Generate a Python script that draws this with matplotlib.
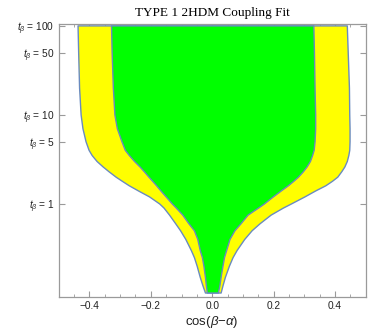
import matplotlib
matplotlib.use("Agg")
import matplotlib.pyplot as plt
import numpy as np

plt.rcParams['font.family'] = ['Liberation Sans', 'DejaVu Sans']
plt.rcParams['mathtext.fontset'] = 'custom'
plt.rcParams['mathtext.rm'] = 'Liberation Sans'
plt.rcParams['mathtext.it'] = 'Liberation Sans:italic'
plt.rcParams['mathtext.bf'] = 'Liberation Sans:bold'

# tan(beta) sample values (top to bottom)
tan_beta = [100, 50, 20, 10, 7, 5, 4, 3.5, 3.0, 2.6, 2.3, 2.0, 1.8, 1.6, 1.4,
            1.2, 1.0, 0.9, 0.75, 0.6, 0.5, 0.4, 0.3, 0.25, 0.2, 0.15, 0.12, 0.1]
# outer (yellow) region boundaries in cos(beta-alpha)
yellow_left = [-0.437, -0.435, -0.432, -0.427, -0.421, -0.411, -0.401, -0.391,
               -0.375, -0.355, -0.336, -0.313, -0.293, -0.270, -0.240, -0.204,
               -0.171, -0.157, -0.139, -0.119, -0.103, -0.086, -0.068, -0.058,
               -0.049, -0.039, -0.030, -0.022]
yellow_right = [0.440, 0.443, 0.447, 0.448, 0.449, 0.449, 0.448, 0.445, 0.440,
                0.432, 0.422, 0.409, 0.392, 0.370, 0.337, 0.302, 0.258, 0.232,
                0.192, 0.156, 0.130, 0.106, 0.081, 0.068, 0.056, 0.043, 0.035,
                0.029]
# inner (green) region boundaries
green_left = [-0.328, -0.326, -0.322, -0.317, -0.309, -0.294, -0.283, -0.270,
              -0.253, -0.235, -0.221, -0.206, -0.194, -0.181, -0.167, -0.150,
              -0.130, -0.117, -0.096, -0.076, -0.058, -0.047, -0.039, -0.032,
              -0.027, -0.022, -0.019, -0.016]
green_right = [0.331, 0.333, 0.335, 0.337, 0.337, 0.335, 0.332, 0.327, 0.320,
               0.309, 0.297, 0.281, 0.266, 0.248, 0.225, 0.199, 0.170, 0.151,
               0.117, 0.094, 0.074, 0.058, 0.047, 0.040, 0.035, 0.029, 0.025,
               0.020]

ytick_vals = [1, 5, 10, 50, 100]
ytick_labels = [r"$t_{\beta}$ = 1", r"$t_{\beta}$ = 5", r"$t_{\beta}$ = 10",
                r"$t_{\beta}$ = 50", r"$t_{\beta}$ = 100"]
xtick_vals = [-0.4, -0.2, 0.0, 0.2, 0.4]
xtick_labels = ["\u22120.4", "\u22120.2", "0.0", "0.2", "0.4"]

fig = plt.figure(figsize=(3.78, 3.32), dpi=100)
ax = fig.add_axes([0.1553, 0.1045, 0.8122, 0.8232])

edge = "#6A8BBF"
t = np.array(tan_beta)
yy = np.concatenate([t, t[::-1]])
yx = np.concatenate([yellow_left, yellow_right[::-1]])
ax.fill(yx, yy, facecolor="#FFFF00", edgecolor=edge, linewidth=1.0,
        joinstyle="round", zorder=2)
gx = np.concatenate([green_left, green_right[::-1]])
ax.fill(gx, yy, facecolor="#00FF00", edgecolor=edge, linewidth=1.0,
        joinstyle="round", zorder=3)

ax.set_yscale("log")
ax.set_xlim(-0.5, 0.5)
ax.set_ylim(0.0895, 105)

ax.set_yticks(ytick_vals)
ax.set_yticklabels(ytick_labels)
ax.yaxis.set_minor_locator(matplotlib.ticker.NullLocator())
ax.set_xticks(xtick_vals)
ax.set_xticklabels(xtick_labels)
ax.set_xticks(np.arange(-0.45, 0.46, 0.05), minor=True)

frame_col = "#9a9a9a"
for s in ax.spines.values():
    s.set_color(frame_col)
    s.set_linewidth(0.9)
ax.tick_params(which="both", direction="in", top=True, right=True,
               color=frame_col, labelsize=7.3, labelcolor="#222222")
ax.tick_params(which="major", length=4, width=0.8, pad=3)
ax.tick_params(which="minor", length=2.3, width=0.6)

ax.set_title("TYPE 1 2HDM Coupling Fit", family="Liberation Serif",
             fontsize=9.5, pad=6)
ax.set_xlabel(r"cos($\beta$$-$$\alpha$)", fontsize=9.5, color="#222222",
              labelpad=2)

fig.savefig("out.png", dpi=100)
